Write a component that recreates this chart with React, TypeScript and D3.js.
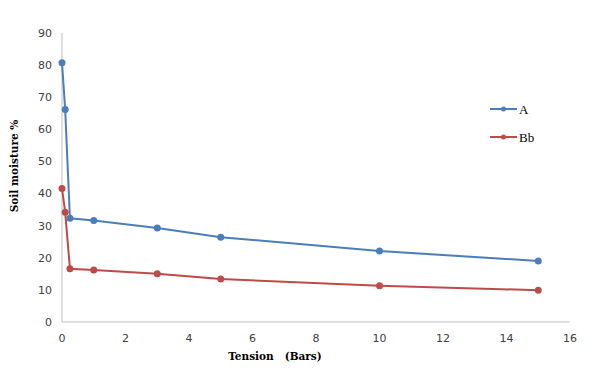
import React from "react";
import * as d3 from "d3";

const tension = [0, 0.1, 0.25, 1, 3, 5, 10, 15];
const seriesA = [80.7, 66.2, 32.3, 31.6, 29.3, 26.4, 22.1, 19.0];
const seriesBb = [41.6, 34.2, 16.6, 16.2, 15.0, 13.4, 11.3, 9.9];
const seriesNames = ["A", "Bb"];
const seriesColors = ["#4a7ebb", "#be4b48"];
const xTicks = [0, 2, 4, 6, 8, 10, 12, 14, 16];
const yTicks = [0, 10, 20, 30, 40, 50, 60, 70, 80, 90];

export default function App() {
  const W = 594, H = 382;
  const x = d3.scaleLinear().domain([0, 16]).range([62, 570]);
  const y = d3.scaleLinear().domain([0, 90]).range([322, 33]);
  const line = d3.line<[number, number]>().x(d => x(d[0])).y(d => y(d[1]));
  const all = [seriesA, seriesBb];
  const legendY = [109, 137];
  return (
    <svg width={W} height={H} style={{ position: "absolute", left: 0, top: 0, background: "#fff" }}>
      <line x1={x(0)} x2={x(0)} y1={y(90)} y2={y(0)} stroke="#bfbfbf" strokeWidth={1} />
      <line x1={x(0)} x2={x(16)} y1={y(0)} y2={y(0)} stroke="#bfbfbf" strokeWidth={1} />
      {yTicks.map(t => (
        <text key={"y" + t} x={52} y={y(t)} dy="0.35em" textAnchor="end" fontFamily="DejaVu Sans" fontSize={11} fill="#404040">{t}</text>
      ))}
      {xTicks.map(t => (
        <text key={"x" + t} x={x(t)} y={338} dy="0.35em" textAnchor="middle" fontFamily="DejaVu Sans" fontSize={11} fill="#404040">{t}</text>
      ))}
      {all.map((s, i) => {
        const pts = tension.map((t, j) => [t, s[j]] as [number, number]);
        return (
          <g key={i}>
            <path d={line(pts) || ""} fill="none" stroke={seriesColors[i]} strokeWidth={2} />
            {pts.map((p, j) => (
              <circle key={j} cx={x(p[0])} cy={y(p[1])} r={3.5} fill={seriesColors[i]} />
            ))}
          </g>
        );
      })}
      {seriesNames.map((n, i) => (
        <g key={n}>
          <line x1={490} x2={517} y1={legendY[i]} y2={legendY[i]} stroke={seriesColors[i]} strokeWidth={2} />
          <circle cx={503.5} cy={legendY[i]} r={2.5} fill={seriesColors[i]} />
          <text x={519} y={legendY[i]} dy="0.35em" fontFamily="Liberation Serif" fontSize={13} fill="#000">{n}</text>
        </g>
      ))}
      <text x={275} y={356} dy="0.35em" textAnchor="middle" fontFamily="DejaVu Serif" fontWeight="bold" fontSize={10.5} fill="#000" style={{ whiteSpace: "pre" }}>{"Tension   (Bars)"}</text>
      <text transform={`translate(14,166) rotate(-90)`} dy="0.35em" textAnchor="middle" fontFamily="DejaVu Serif" fontWeight="bold" fontSize={10.5} fill="#000">Soil moisture %</text>
    </svg>
  );
}
